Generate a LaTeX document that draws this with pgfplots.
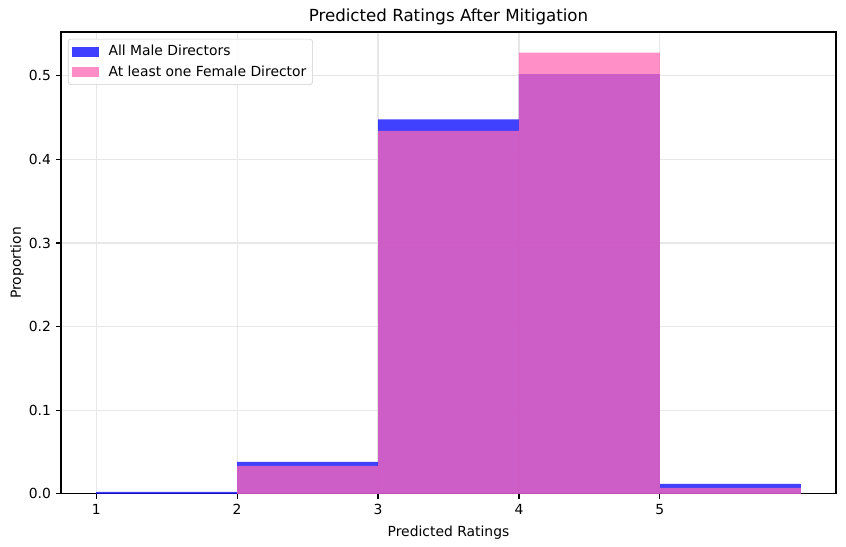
\documentclass[border=0pt]{standalone}
\usepackage{fontspec}
\setmainfont{DejaVu Sans}
\usepackage{pgfplots}
\pgfplotsset{compat=1.18}

\definecolor{mblue}{RGB}{0,0,255}
\definecolor{mpink}{RGB}{255,105,180}
\definecolor{gridc}{RGB}{231,231,231}

\begin{document}
\begin{tikzpicture}
\begin{axis}[
    scale only axis,
    width=558pt, height=332.6pt,
    xmin=0.75, xmax=6.25,
    ymin=0, ymax=0.5524,
    xtick={1,2,3,4,5},
    ytick={0,0.1,0.2,0.3,0.4,0.5},
    /pgf/number format/assume math mode=true,
    yticklabel style={/pgf/number format/fixed, /pgf/number format/precision=1, /pgf/number format/fixed zerofill},
    tick label style={font=\fontsize{10}{12}\selectfont, inner sep=0pt},
    xticklabel style={yshift=-3.5pt},
    yticklabel style={xshift=-3.5pt},
    tick align=outside,
    major tick length=3.5pt,
    xtick pos=bottom, ytick pos=left,
    tick style={black, line width=0.8pt},
    axis line style={line width=0.8pt},
    grid=major,
    major grid style={gridc, line width=0.8pt},
    every axis title shift=0pt,
    title={Predicted Ratings After Mitigation},
    title style={at={(axis description cs:0.5,1.0325)}, anchor=center, inner sep=0pt, font=\fontsize{12}{14}\selectfont},
    xlabel={Predicted Ratings},
    ylabel={Proportion},
    every axis x label/.style={at={(axis description cs:0.5,-0.084)}, anchor=center, inner sep=0pt, font=\fontsize{10}{12}\selectfont},
    every axis y label/.style={at={(axis description cs:-0.0568,0.5)}, anchor=center, rotate=90, inner sep=0pt, font=\fontsize{10}{12}\selectfont},
    legend style={at={(axis description cs:0.009,0.985)}, anchor=north west,
        draw=gray!40, rounded corners=2pt, fill=white, fill opacity=0.8, text opacity=1,
        font=\fontsize{10}{12}\selectfont, row sep=1.5pt, inner sep=2.5pt},
    legend cell align=left,
    legend image code/.code={\fill[#1, sharp corners] (0pt,-3.5pt) rectangle (20pt,3.5pt); \path (24.5pt,0pt);},
]
\addplot[ybar interval, fill=mblue, fill opacity=0.75, draw=none] coordinates {
    (1,0.0024) (2,0.0384) (3,0.448) (4,0.502) (5,0.012) (6,0.012)
};
\addlegendentry{All Male Directors}
\addplot[ybar interval, fill=mpink, fill opacity=0.75, draw=none] coordinates {
    (1,0.0) (2,0.0336) (3,0.434) (4,0.5276) (5,0.0072) (6,0.0072)
};
\addlegendentry{At least one Female Director}
\end{axis}
\pgfresetboundingbox
\path[use as bounding box] ([shift={(-43.9pt,-38.2pt)}]current axis.south west) rectangle ([shift={(7.2pt,23pt)}]current axis.north east);
\end{tikzpicture}
\end{document}
